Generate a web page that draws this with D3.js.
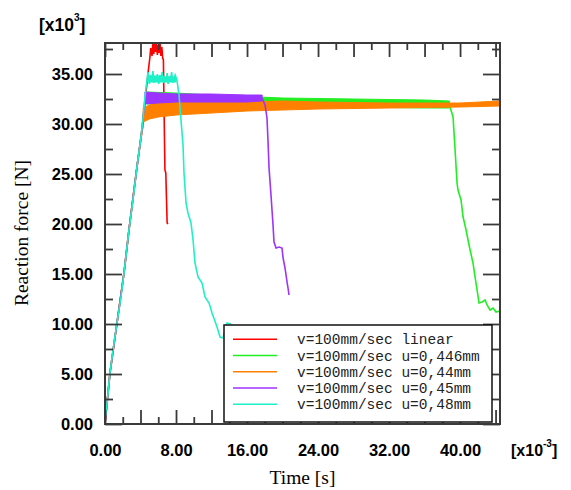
<!DOCTYPE html>
<html><head><meta charset="utf-8">
<script src="https://cdn.jsdelivr.net/npm/d3@7"></script>
<style>html,body{margin:0;padding:0;background:#fff;}svg{display:block;}</style>
</head><body>
<svg id="c" width="571" height="490"></svg>
<script>
// ---------- DATA (time in 1e-3 s, force in 1e3 N) ----------
const legendLabels = ["v=100mm/sec linear","v=100mm/sec u=0,446mm","v=100mm/sec u=0,44mm","v=100mm/sec u=0,45mm","v=100mm/sec u=0,48mm"];
const yTickLabels = ["0.00","5.00","10.00","15.00","20.00","25.00","30.00","35.00"];
const xTickLabels = ["0.00","8.00","16.00","24.00","32.00","40.00"];

// linear (red)
const redT = [0,0.56,1.35,2.14,2.7,3.6,4.06,4.3,4.6,4.9,5.05,5.15,5.3,5.4,5.5,5.6,5.7,5.8,5.9,6.0,6.1,6.2,6.3,6.4,6.5,6.58,6.65,6.75,6.85,7.0,7.1];
const redF = [0,5.1,10.1,15.1,19.4,25.7,28.7,30.0,33.0,35.5,36.6,37.6,36.8,38.2,37.0,38.3,37.2,38.0,36.9,37.9,37.1,38.1,36.8,37.7,36.6,36.4,31.7,25.4,25.1,20.1,20.0];

// u=0,446mm (green)
const greenRiseT = [0,0.56,1.35,2.14,2.7,3.6,4.06,4.3,4.5,4.7];
const greenRiseF = [0,5.1,10.1,15.1,19.4,25.7,28.7,30.7,32.0,32.6];
const greenBandT = [4.7,8,12,20,28,36,38.8];
const greenBandHi = [33.2,33.1,32.9,32.6,32.5,32.4,32.3];
const greenBandLo = [32.0,32.0,31.9,31.8,31.7,31.6,31.6];
const greenFallT = [38.8,39.21,39.44,39.66,39.77,40.11,40.34,40.68,40.9,41.13,41.46,41.69,41.92,42.14,42.48,42.82,43.04,43.38,43.72,44.06,44.5];
const greenFallF = [31.9,30.7,27.4,24.1,23.4,22.4,20.7,19.4,18.4,17.4,16.1,14.7,13.4,12.1,12.2,12.4,11.9,11.4,11.6,11.2,11.3];

// u=0,44mm (orange)
const orangeRiseT = [0,0.56,1.35,2.14,2.7,3.6,4.06,4.3];
const orangeRiseF = [0,5.1,10.1,15.1,19.4,25.7,28.7,30.0];
const orangeBandT = [4.3,5,6,8,10,12,16,20,24,32,40,44.5];
const orangeBandHi = [31.6,31.9,32.1,32.2,32.2,32.2,32.2,32.3,32.2,32.1,32.1,32.3];
const orangeBandLo = [30.2,30.5,30.7,30.9,31.0,31.1,31.3,31.4,31.5,31.6,31.7,31.8];

// u=0,45mm (purple)
const purpleRiseT = [0,0.56,1.35,2.14,2.7,3.6,4.06,4.3,4.5];
const purpleRiseF = [0,5.1,10.1,15.1,19.4,25.7,28.7,30.7,32.5];
const purpleBandT = [4.5,6,8,12,16,17.7];
const purpleBandHi = [33.2,33.1,33.0,33.0,32.9,32.9];
const purpleBandLo = [32.0,32.1,32.2,32.2,32.2,32.3];
const purpleFallT = [17.7,18.03,18.25,18.37,18.48,18.7,18.93,19.04,19.27,19.61,19.94,20.06,20.28,20.51,20.62,20.73];
const purpleFallF = [32.6,31.9,30.6,28.2,25.6,22.9,19.9,18.2,17.6,17.7,17.6,16.6,15.6,14.2,13.6,12.9];

// u=0,48mm (cyan)
const cyanT = [0,0,0.1,0.56,0.9,1.35,1.8,2.14,2.7,3.15,3.6,4.06,4.3,4.5,4.73,
  4.85,5.0,5.1,5.25,5.4,5.5,5.65,5.8,5.9,6.05,6.2,6.3,6.45,6.6,6.7,6.85,7.0,7.1,7.25,7.4,7.5,7.65,7.8,7.9,8.1,
  8.34,8.56,8.79,8.9,9.13,9.35,9.69,9.92,10.14,10.48,10.93,11.27,11.72,12.06,12.62,12.96,13.3,13.75,14.2];
const cyanF = [0,0.9,0.9,5.1,7.4,10.1,12.7,15.1,19.4,22.4,25.7,28.7,30.7,32.7,34.4,
  35.2,34.0,34.9,34.2,35.3,34.1,34.8,34.3,35.0,34.0,34.9,34.4,35.2,34.1,34.7,34.2,35.1,34.0,34.8,34.3,35.2,34.1,34.6,34.9,34.4,
  32.9,30.4,27.9,25.1,22.1,21.1,20.1,18.4,16.1,14.7,14.1,12.7,12.1,11.1,9.7,8.7,8.6,10.1,10.0];
const cyanBandT = [4.8,6,7,8.0];
const cyanBandHi = [34.8,34.8,34.7,34.7];
const cyanBandLo = [34.2,34.2,34.2,34.2];

// ---------- STYLE ----------
const colors = ["#ff0000","#22ee22","#ff8000","#9c33ff","#1ef0c8"];
const M = {left:105, right:500, top:43, bottom:424};

const svg = d3.select("#c");
const x = d3.scaleLinear().domain([0,44.5]).range([M.left,M.right]);
const y = d3.scaleLinear().domain([0,38.1]).range([M.bottom,M.top]);

svg.append("defs").append("clipPath").attr("id","clip")
  .append("rect").attr("x",M.left).attr("y",M.top).attr("width",M.right-M.left).attr("height",M.bottom-M.top);

const zipP = (T,F) => T.map((t,i)=>[t,F[i]]);
const zipB = (T,L,Hh) => T.map((t,i)=>({t, lo:L[i], hi:Hh[i]}));
const line = d3.line().x(d=>x(d[0])).y(d=>y(d[1]));
const area = d3.area().x(d=>x(d.t)).y0(d=>y(d.lo)).y1(d=>y(d.hi));

const series = [
  {color:colors[0], paths:[zipP(redT,redF)], bands:[]},
  {color:colors[1], paths:[zipP(greenRiseT,greenRiseF), zipP(greenFallT,greenFallF)], bands:[zipB(greenBandT,greenBandLo,greenBandHi)]},
  {color:colors[2], paths:[zipP(orangeRiseT,orangeRiseF)], bands:[zipB(orangeBandT,orangeBandLo,orangeBandHi)]},
  {color:colors[3], paths:[zipP(purpleRiseT,purpleRiseF), zipP(purpleFallT,purpleFallF)], bands:[zipB(purpleBandT,purpleBandLo,purpleBandHi)]},
  {color:colors[4], paths:[zipP(cyanT,cyanF)], bands:[zipB(cyanBandT,cyanBandLo,cyanBandHi)]}
];

const plot = svg.append("g").attr("clip-path","url(#clip)");
series.forEach(s=>{
  s.bands.forEach(b=>{
    plot.append("path").attr("d",area(b)).attr("fill",s.color).attr("stroke",s.color).attr("stroke-width",1);
  });
  s.paths.forEach(p=>{
    plot.append("path").attr("d",line(p)).attr("fill","none").attr("stroke",s.color).attr("stroke-width",1.6);
  });
});

// ---------- AXES ----------
const axisColor = "#3a3a3a";
const yMajor = d3.range(0,36,5), yMinor = d3.range(2.5,38,5);
const xMajor = d3.range(0,45,4), xMinor = d3.range(2,45,4);
function styleAxis(g){ g.select(".domain").remove(); g.selectAll("line").attr("stroke",axisColor).attr("stroke-width",1.8); }

svg.append("g").attr("transform",`translate(${M.left},0)`)
  .call(d3.axisLeft(y).tickValues(yMajor).tickSize(-17).tickPadding(12).tickFormat((d,i)=>yTickLabels[i]))
  .call(styleAxis);
svg.append("g").attr("transform",`translate(${M.left},0)`)
  .call(d3.axisLeft(y).tickValues(yMinor).tickSize(-8).tickFormat("")).call(styleAxis);
svg.append("g").attr("transform",`translate(${M.right},0)`)
  .call(d3.axisRight(y).tickValues(yMajor).tickSize(-17).tickFormat("")).call(styleAxis);
svg.append("g").attr("transform",`translate(${M.right},0)`)
  .call(d3.axisRight(y).tickValues(yMinor).tickSize(-8).tickFormat("")).call(styleAxis);

svg.append("g").attr("transform",`translate(0,${M.bottom})`)
  .call(d3.axisBottom(x).tickValues(xMajor).tickSize(-14).tickFormat("")).call(styleAxis);
svg.append("g").attr("transform",`translate(0,${M.bottom})`)
  .call(d3.axisBottom(x).tickValues(xMinor).tickSize(-7).tickFormat("")).call(styleAxis);
svg.append("g").attr("transform",`translate(0,${M.top})`)
  .call(d3.axisTop(x).tickValues(xMajor).tickSize(-14).tickFormat("")).call(styleAxis);
svg.append("g").attr("transform",`translate(0,${M.top})`)
  .call(d3.axisTop(x).tickValues(xMinor).tickSize(-7).tickFormat("")).call(styleAxis);
svg.append("g").attr("transform",`translate(0,${M.bottom})`)
  .call(d3.axisBottom(x).tickValues(xTickLabels.map(Number)).tickSize(0).tickPadding(20).tickFormat((d,i)=>xTickLabels[i]))
  .call(g=>g.select(".domain").remove());

svg.selectAll(".tick text").attr("font-family","'Liberation Sans', Arial, sans-serif")
  .attr("font-weight","bold").attr("font-size","16.5px").attr("fill","#000");

svg.append("rect").attr("x",M.left).attr("y",M.top).attr("width",M.right-M.left).attr("height",M.bottom-M.top)
  .attr("fill","none").attr("stroke",axisColor).attr("stroke-width",2);

// exponent labels
const ex1 = svg.append("text").attr("x",39).attr("y",31).attr("font-family","'Liberation Sans', Arial, sans-serif")
  .attr("font-weight","bold").attr("font-size","17.5px").attr("fill","#000");
ex1.append("tspan").text("[x10");
ex1.append("tspan").attr("font-size","10px").attr("dy",-10).text("3");
ex1.append("tspan").attr("dy",10).text("]");
const ex2 = svg.append("text").attr("x",511).attr("y",456).attr("font-family","'Liberation Sans', Arial, sans-serif")
  .attr("font-weight","bold").attr("font-size","16px").attr("fill","#000");
ex2.append("tspan").text("[x10");
ex2.append("tspan").attr("font-size","10px").attr("dy",-9).text("-3");
ex2.append("tspan").attr("dy",9).text("]");

// axis titles
svg.append("text").attr("x",(M.left+M.right)/2).attr("y",484).attr("text-anchor","middle")
  .attr("font-family","'Liberation Serif', 'Times New Roman', serif").attr("font-size","19.5px").attr("fill","#000").text("Time [s]");
svg.append("text").attr("transform",`translate(28,${233}) rotate(-90)`).attr("text-anchor","middle")
  .attr("font-family","'Liberation Serif', 'Times New Roman', serif").attr("font-size","19.5px").attr("fill","#000").text("Reaction force [N]");

// ---------- LEGEND ----------
const lg = svg.append("g");
lg.append("rect").attr("x",224).attr("y",325).attr("width",268).attr("height",97)
  .attr("fill","#fff").attr("stroke","#111").attr("stroke-width",1.5);
legendLabels.forEach((lab,i)=>{
  const cy = 339.3 + i*16.25;
  lg.append("line").attr("x1",233).attr("x2",277).attr("y1",cy).attr("y2",cy).attr("stroke",colors[i]).attr("stroke-width",1.5);
  lg.append("text").attr("x",297).attr("y",cy+5).attr("font-family","'Liberation Mono', 'Courier New', monospace")
    .attr("font-size","14.5px").attr("fill","#222").text(lab);
});
</script>
</body></html>
